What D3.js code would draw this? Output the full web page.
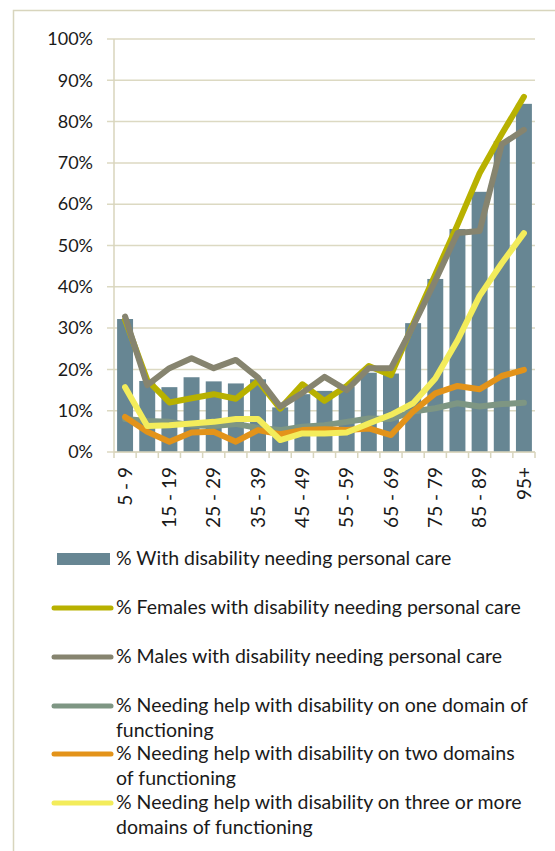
<!DOCTYPE html>
<html>
<head>
<meta charset="utf-8">
<script src="https://cdn.jsdelivr.net/npm/d3@7"></script>
<style>
    body { margin: 0; background: #ffffff; }
    svg text { font-family: Lato, "Open Sans", sans-serif; fill: #1a1a1a; }
</style>
</head>
<body>
<div id="chart"></div>
<script>
var ageGroups = ["5 - 9", "10 - 14", "15 - 19", "20 - 24", "25 - 29", "30 - 34", "35 - 39", "40 - 44", "45 - 49",
    "50 - 54", "55 - 59", "60 - 64", "65 - 69", "70 - 74", "75 - 79", "80 - 84", "85 - 89", "90 - 94", "95+"];

// values in percent
var withDisability = [32.2, 17.2, 15.7, 18.1, 17.1, 16.6, 17.6, 10.8, 14.0, 14.8, 15.8, 19.2, 19.0, 31.2, 41.9, 54.0, 63.0, 75.3, 84.3];
var females = [32.0, 17.4, 12.0, 13.0, 14.0, 12.9, 17.2, 10.5, 16.4, 12.4, 16.0, 20.8, 18.6, 31.0, 43.0, 55.0, 67.5, 77.0, 86.0];
var males = [32.8, 16.2, 20.3, 22.7, 20.3, 22.3, 18.0, 11.0, 14.3, 18.2, 15.0, 20.3, 20.3, 30.5, 41.5, 53.0, 53.5, 74.5, 78.0];
var oneDomain = [8.0, 7.5, 7.3, 6.5, 6.3, 6.8, 5.8, 5.3, 6.1, 6.5, 7.3, 8.1, 8.0, 9.8, 10.6, 11.8, 11.0, 11.6, 11.9];
var twoDomains = [8.5, 4.9, 2.5, 4.7, 4.9, 2.5, 5.3, 4.3, 5.3, 5.5, 5.3, 5.7, 4.1, 9.8, 14.2, 16.0, 15.2, 18.4, 19.9];
var threeDomains = [15.7, 6.3, 6.5, 6.9, 7.3, 8.0, 8.0, 2.9, 4.5, 4.5, 4.7, 6.9, 9.0, 11.8, 17.8, 27.0, 37.8, 45.7, 53.0];

var yTicks = [0, 10, 20, 30, 40, 50, 60, 70, 80, 90, 100];

var barLabel = "% With disability needing personal care";
var lineSeries = [
    { name: ["% Females with disability needing personal care"], values: females, color: "#b8b100" },
    { name: ["% Males with disability needing personal care"], values: males, color: "#86846f" },
    { name: ["% Needing help with disability on one domain of", "functioning"], values: oneDomain, color: "#7e9683" },
    { name: ["% Needing help with disability on two domains", "of functioning"], values: twoDomains, color: "#e3931a" },
    { name: ["% Needing help with disability on three or more", "domains of functioning"], values: threeDomains, color: "#f3ec5b" }
];

var width = 555, height = 851;
var margins = { top: 39, right: 20, bottom: 399, left: 114 };
var plotW = width - margins.left - margins.right;   // 421
var plotH = height - margins.top - margins.bottom;  // 413

var svg = d3.select('#chart').append('svg')
    .attr('width', width)
    .attr('height', height);

// outer frame
svg.append('rect')
    .attr('x', 13.5)
    .attr('y', 10.5)
    .attr('width', 600)
    .attr('height', 900)
    .attr('fill', 'none')
    .attr('stroke', '#d8d5bd')
    .attr('stroke-width', 1.5);

var g = svg.append('g')
    .attr('transform', 'translate(' + margins.left + ',' + margins.top + ')');

var xScale = d3.scaleBand()
    .domain(ageGroups)
    .range([0, plotW])
    .paddingInner(0.28)
    .paddingOuter(0.14);

var yScale = d3.scaleLinear()
    .domain([0, 100])
    .range([plotH, 0]);

// grid lines
g.append('g').attr('class', 'grid')
    .selectAll('line')
    .data(yTicks)
    .enter().append('line')
    .attr('x1', -7)
    .attr('x2', plotW)
    .attr('y1', yScale)
    .attr('y2', yScale)
    .attr('stroke', '#dcd9c2')
    .attr('stroke-width', 1.5);

// y axis labels
var yAxis = d3.axisLeft(yScale)
    .tickValues(yTicks)
    .tickSize(0)
    .tickPadding(21)
    .tickFormat(function (d) { return d + '%'; });

var yAxisG = g.append('g').attr('class', 'yAxis').call(yAxis);
yAxisG.select('.domain').remove();
yAxisG.selectAll('text')
    .style('font-size', '18px')
    .style('font-family', 'Lato, sans-serif')
    .attr('fill', '#1a1a1a');

// y axis line
g.append('line')
    .attr('x1', 0).attr('x2', 0)
    .attr('y1', 0).attr('y2', plotH)
    .attr('stroke', '#d8d5bd')
    .attr('stroke-width', 1.5);

// bars
g.append('g').attr('class', 'bars')
    .selectAll('rect')
    .data(withDisability)
    .enter().append('rect')
    .attr('x', function (d, i) { return xScale(ageGroups[i]); })
    .attr('y', function (d) { return yScale(d); })
    .attr('width', xScale.bandwidth())
    .attr('height', function (d) { return plotH - yScale(d); })
    .attr('fill', '#678693');

// x axis line and boundary ticks
var step = xScale.step();
var boundaries = d3.range(ageGroups.length + 1);
var xAxisG = g.append('g').attr('class', 'xAxis')
    .attr('transform', 'translate(0,' + plotH + ')');
xAxisG.append('line')
    .attr('x1', 0).attr('x2', plotW)
    .attr('y1', 0).attr('y2', 0)
    .attr('stroke', '#d8d5bd')
    .attr('stroke-width', 1.5);
xAxisG.selectAll('line.tick')
    .data(boundaries)
    .enter().append('line')
    .attr('class', 'tick')
    .attr('x1', function (i) { return i * step; })
    .attr('x2', function (i) { return i * step; })
    .attr('y1', 0)
    .attr('y2', 6)
    .attr('stroke', '#d8d5bd')
    .attr('stroke-width', 1.5);

// category labels, every other one
xAxisG.selectAll('text')
    .data(ageGroups.filter(function (d, i) { return i % 2 === 0; }))
    .enter().append('text')
    .attr('transform', function (d) {
        return 'translate(' + (xScale(d) + xScale.bandwidth() / 2) + ',15) rotate(-90)';
    })
    .attr('dy', '0.35em')
    .style('text-anchor', 'end')
    .style('font-size', '19px')
    .text(function (d) { return d; });

// lines
var line = d3.line()
    .x(function (d, i) { return xScale(ageGroups[i]) + xScale.bandwidth() / 2; })
    .y(function (d) { return yScale(d); });

g.append('g').attr('class', 'lines')
    .selectAll('path')
    .data(lineSeries)
    .enter().append('path')
    .attr('d', function (s) { return line(s.values); })
    .attr('fill', 'none')
    .attr('stroke', function (s) { return s.color; })
    .attr('stroke-width', 6)
    .attr('stroke-linejoin', 'round')
    .attr('stroke-linecap', 'round');

// legend
var legend = svg.append('g').attr('class', 'chart-legend');
var legendY = [565, 614, 663, 712, 760, 809];
var legendFont = '19.5px';

legend.append('rect')
    .attr('x', 57)
    .attr('y', legendY[0] - 12)
    .attr('width', 53)
    .attr('height', 12)
    .attr('fill', '#678693');
legend.append('text')
    .attr('x', 116)
    .attr('y', legendY[0])
    .style('font-size', legendFont)
    .text(barLabel);

lineSeries.forEach(function (s, k) {
    var y = legendY[k + 1];
    legend.append('line')
        .attr('x1', 54)
        .attr('x2', 111)
        .attr('y1', y - 6)
        .attr('y2', y - 6)
        .attr('stroke', s.color)
        .attr('stroke-width', 5)
        .attr('stroke-linecap', 'round');
    var t = legend.append('text')
        .attr('x', 116)
        .attr('y', y)
        .style('font-size', legendFont);
    s.name.forEach(function (part, j) {
        t.append('tspan')
            .attr('x', 116)
            .attr('dy', j === 0 ? 0 : 25)
            .text(part);
    });
});
</script>
</body>
</html>
